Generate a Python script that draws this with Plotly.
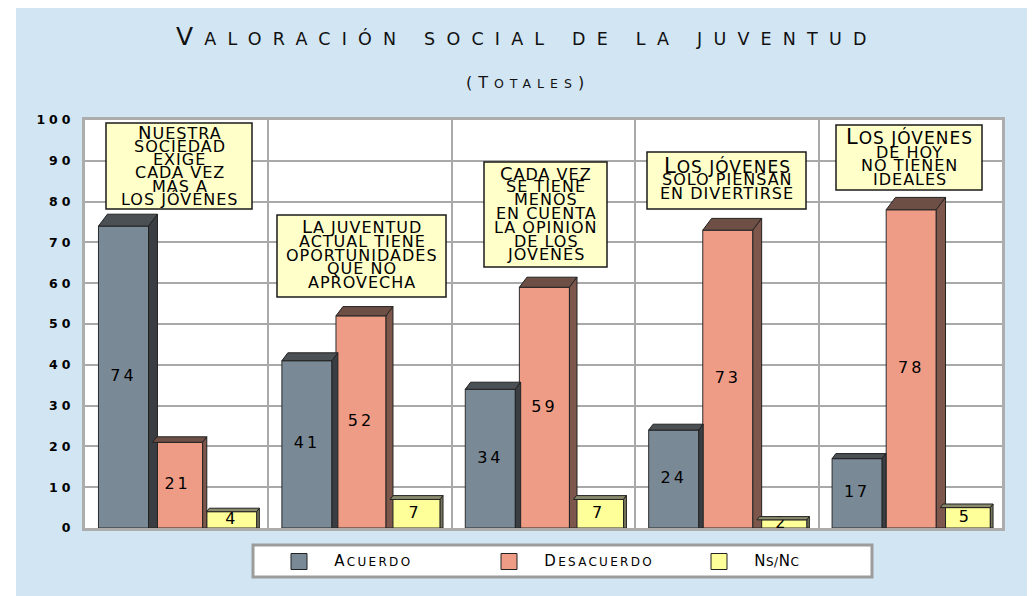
import plotly.graph_objects as go

# ---------------- data ----------------
statements = [
    "Nuestra sociedad exige cada vez más a los jóvenes",
    "La juventud actual tiene oportunidades que no aprovecha",
    "Cada vez se tiene menos en cuenta la opinión de los jóvenes",
    "Los jóvenes sólo piensan en divertirse",
    "Los jóvenes de hoy no tienen ideales",
]
acuerdo = [74, 41, 34, 24, 17]
desacuerdo = [21, 52, 59, 73, 78]
nsnc = [4, 7, 7, 2, 5]
series_names = ["Acuerdo", "Desacuerdo", "Ns/Nc"]
y_ticks = [0, 10, 20, 30, 40, 50, 60, 70, 80, 90, 100]
y_tick_labels = ["0", "10", "20", "30", "40", "50", "60", "70", "80", "90", "100"]

# text shown in the yellow boxes (as displayed, line by line)
box_lines = [
    ["NUESTRA", "SOCIEDAD", "EXIGE", "CADA VEZ", "MÁS A", "LOS JÓVENES"],
    ["LA JUVENTUD", "ACTUAL TIENE", "OPORTUNIDADES", "QUE NO", "APROVECHA"],
    ["CADA VEZ", "SE TIENE", "MENOS", "EN CUENTA", "LA OPINION", "DE LOS", "JOVENES"],
    ["LOS JÓVENES", "SOLO PIENSAN", "EN DIVERTIRSE"],
    ["LOS JÓVENES", "DE HOY", "NO TIENEN", "IDEALES"],
]

# ---------------- style / layout ----------------
W, H = 1035, 596
OFF = 8                       # page body margin
PL, PR, PT, PB = 85, 1002, 120, 528   # plot area in screen pixels
XW, YH = PR - PL, PB - PT
PX_X = XW / 5.0     # px per x data unit
PX_Y = YH / 100.0   # px per y data unit


def fx(px):
    return (px - PL) / XW


def fy(py):
    return (PB - py) / YH


FONT = "DejaVu Sans"
colors = ["#798996", "#ef9c86", "#ffff99"]
top_colors = ["#4b5055", "#6e4f46", "#8a8a6c"]
side_colors = ["#3a3e42", "#7d574b", "#77775c"]
offsets = [-0.29, 0.005, 0.30]
bar_w = 0.273
series = [acuerdo, desacuerdo, nsnc]


def smallcaps(txt, big, small, ls):
    return (f"<span style='font-size:{big}px;letter-spacing:{ls}px'>{txt[0]}</span>"
            f"<span style='font-size:{small}px;letter-spacing:{ls}px'>{txt[1:]}</span>")


fig = go.Figure()
shapes = []
annotations = []

xs_idx = list(range(len(statements)))
for k, (name, vals) in enumerate(zip(series_names, series)):
    xs = [i + offsets[k] for i in xs_idx]
    fig.add_trace(go.Bar(
        x=xs, y=vals, width=bar_w, name=name, showlegend=False,
        marker=dict(color=colors[k], line=dict(color="#2b2b2b", width=1)),
        hoverinfo="skip",
    ))
    # 3-D top and side faces
    for x, v in zip(xs, vals):
        dy_px = 3 + 0.12 * v
        dx_px = 0.75 * dy_px
        dxd, dyd = dx_px / PX_X, dy_px / PX_Y
        x0, x1 = x - bar_w / 2, x + bar_w / 2
        shapes.append(dict(
            type="path", xref="x", yref="y", layer="above",
            path=f"M{x0},{v} L{x0+dxd},{v+dyd} L{x1+dxd},{v+dyd} L{x1},{v} Z",
            fillcolor=top_colors[k], line=dict(color="#222", width=1)))
        shapes.append(dict(
            type="path", xref="x", yref="y", layer="above",
            path=f"M{x1},{v} L{x1+dxd},{v+dyd} L{x1+dxd},0 L{x1},0 Z",
            fillcolor=side_colors[k], line=dict(color="#222", width=1)))
    # value labels
    fig.add_trace(go.Scatter(
        x=xs, y=[v / 2 for v in vals], mode="text",
        text=[f"<span style='letter-spacing:3px'>{v}</span>" for v in vals],
        textfont=dict(family=FONT, size=16, color="black"),
        textposition="middle center", showlegend=False, hoverinfo="skip",
        cliponaxis=False,
    ))

# legend entries (square markers)
NB = "&nbsp;" * 4
for k, name in enumerate(series_names):
    label = NB + smallcaps(name.upper(), 15, 12, 2.3)
    if name == "Ns/Nc":
        label = (NB + "<span style='font-size:15px;letter-spacing:0.5px'>N</span>"
                 "<span style='font-size:12px;letter-spacing:0.5px'>S/</span>"
                 "<span style='font-size:15px;letter-spacing:0.5px'>N</span>"
                 "<span style='font-size:12px;letter-spacing:0.5px'>C</span>")
    fig.add_trace(go.Scatter(
        x=[None], y=[None], mode="markers", name=label,
        marker=dict(symbol="square", size=16, color=colors[k],
                    line=dict(color="#222", width=1)),
    ))

# white left strip
shapes.append(dict(type="rect", xref="paper", yref="paper", layer="below",
                   x0=fx(0), x1=fx(16), y0=fy(W), y1=fy(0),
                   fillcolor="white", line=dict(width=0)))

# legend frame
shapes.append(dict(type="rect", xref="paper", yref="paper", layer="above",
                   x0=fx(253), x1=fx(872), y0=fy(577), y1=fy(545),
                   fillcolor="white", line=dict(color="#9c9c9c", width=3)))

# yellow statement boxes
boxes = [
    (106, 252, 123, 209, [132, 146, 159, 172.5, 186, 199.5], 18, 16),
    (277, 446, 215, 297, [226.5, 241.5, 255, 268.5, 282.5], 18, 16),
    (484, 607, 162, 267, [173, 186.5, 199, 213, 228, 241.5, 254], 18, 16),
    (647, 806, 152, 209, [166, 179.5, 193.5], 21, 17),
    (836, 982, 125, 190, [137, 152, 165, 179], 21, 17),
]
for (bx0, bx1, by0, by1, ycs, big, small), lines in zip(boxes, box_lines):
    shapes.append(dict(type="rect", xref="paper", yref="paper", layer="above",
                       x0=fx(bx0), x1=fx(bx1), y0=fy(by1), y1=fy(by0),
                       fillcolor="#ffffca", line=dict(color="#1a1a1a", width=1.5)))
    cx = (bx0 + bx1) / 2
    for j, (ln, yc) in enumerate(zip(lines, ycs)):
        if j == 0:
            txt = smallcaps(ln, big, small, 1)
        else:
            txt = f"<span style='letter-spacing:1px'>{ln}</span>"
        annotations.append(dict(
            xref="paper", yref="paper", x=fx(cx + 0.5), y=fy(yc),
            xanchor="center", yanchor="middle", showarrow=False, text=txt,
            font=dict(family=FONT, size=16, color="black")))

# title and subtitle
title_txt = ("<span style='font-size:25px;letter-spacing:11.2px'>V</span>"
             "<span style='font-size:17.5px;letter-spacing:11.2px'>ALORACIÓN SOCIAL DE LA JUVENTUD</span>")
annotations.append(dict(xref="paper", yref="paper", x=fx(527), y=fy(36),
                        xanchor="center", yanchor="middle", showarrow=False,
                        text=title_txt, font=dict(family=FONT, size=17.5, color="#111")))
sub_txt = ("<span style='font-size:16px;letter-spacing:6px'>(T</span>"
           "<span style='font-size:12.5px;letter-spacing:6px'>OTALES</span>"
           "<span style='font-size:16px;letter-spacing:6px'>)</span>")
annotations.append(dict(xref="paper", yref="paper", x=fx(528), y=fy(82),
                        xanchor="center", yanchor="middle", showarrow=False,
                        text=sub_txt, font=dict(family=FONT, size=13, color="#111")))

fig.update_layout(
    width=W, height=H, autosize=False,
    margin=dict(l=PL - OFF, r=W - (PR - OFF), t=PT - OFF, b=H - (PB - OFF)),
    paper_bgcolor="#d1e5f3", plot_bgcolor="white",
    barmode="overlay",
    shapes=shapes, annotations=annotations,
    showlegend=True,
    legend=dict(orientation="h", x=fx(279), y=fy(561.5), xanchor="left",
                yanchor="middle", bgcolor="rgba(0,0,0,0)", borderwidth=0,
                entrywidth=165, entrywidthmode="pixels",
                font=dict(family=FONT, size=12, color="black")),
    xaxis=dict(range=[-0.5, 4.5], tickvals=[0.5, 1.5, 2.5, 3.5],
               showticklabels=False, showgrid=True, gridcolor="#a9a9a9",
               gridwidth=2, zeroline=False, showline=True, mirror=True,
               linecolor="#adadad", linewidth=3, ticks="", fixedrange=True),
    yaxis=dict(range=[0, 100], tickvals=y_ticks,
               ticktext=[f"<span style='letter-spacing:4px'>{t}</span>" for t in y_tick_labels],
               showgrid=True, gridcolor="#a9a9a9", gridwidth=2, zeroline=False,
               showline=True, mirror=True, linecolor="#adadad", linewidth=3,
               ticks="", ticklabelstandoff=5,
               tickfont=dict(family=FONT, size=12.5, color="black", weight="bold"),
               fixedrange=True),
)

fig.write_html("out.html")
